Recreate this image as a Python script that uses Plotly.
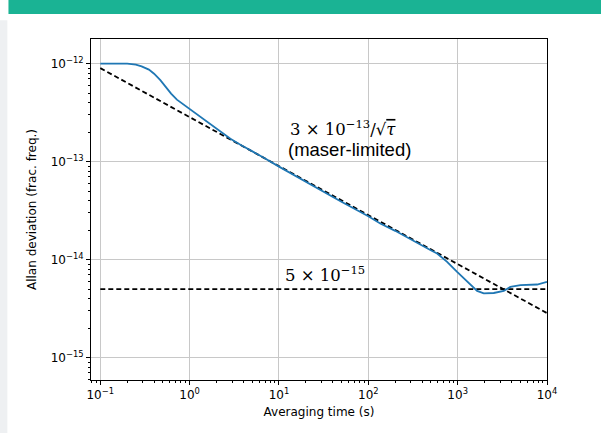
import numpy as np
import plotly.graph_objects as go

# Measured Allan deviation (blue)
tau = [0.1, 0.2, 0.25, 0.29, 0.35, 0.4, 0.47, 0.53, 0.62, 0.72, 0.85, 1.0, 1.3, 1.7, 2.2, 2.86, 3.7, 4.8, 7.0,
       10, 20, 50, 100, 136, 200, 300, 500,
       589, 762, 986, 1276, 1652, 1959, 2535, 3281, 3890, 5047, 7762, 10000]
adev = [1.0e-12, 1.0e-12, 9.8e-13, 9.4e-13, 8.7e-13, 7.9e-13, 6.8e-13, 5.9e-13, 4.95e-13, 4.3e-13,
        3.85e-13, 3.5e-13, 2.9e-13, 2.42e-13, 2.03e-13, 1.71e-13, 1.49e-13, 1.31e-13,
        1.08e-13, 8.9e-14, 6.2e-14, 3.9e-14, 2.78e-14, 2.34e-14, 1.97e-14, 1.6e-14, 1.25e-14,
        1.156e-14, 9.5e-15, 7.5e-15, 5.93e-15, 4.8e-15, 4.52e-15, 4.57e-15, 4.79e-15, 5.27e-15,
        5.5e-15, 5.58e-15, 5.93e-15]

# Reference lines
tau_ref = [0.1, 1, 10, 100, 1000, 10000]
maser_coef = 2.85e-13
maser = [maser_coef / np.sqrt(t) for t in tau_ref]
floor_tau = [0.1, 10000]
floor_val = [5e-15, 5e-15]

x_ticks = [0.1, 1, 10, 100, 1000, 10000]
x_ticktext = ["10<sup>−1</sup>", "10<sup>0</sup>", "10<sup>1</sup>", "10<sup>2</sup>", "10<sup>3</sup>", "10<sup>4</sup>"]
y_ticks = [1e-15, 1e-14, 1e-13, 1e-12]
y_ticktext = ["10<sup>−15</sup>", "10<sup>−14</sup>", "10<sup>−13</sup>", "10<sup>−12</sup>"]

x_minor = [m * 10.0 ** e for e in range(-2, 4) for m in range(2, 10)]
y_minor = [m * 10.0 ** e for e in range(-16, -11) for m in range(2, 10)]

fig = go.Figure()
fig.add_trace(go.Scatter(x=tau_ref, y=maser, mode="lines",
                         line=dict(color="black", width=1.8, dash="5px,3px"), showlegend=False))
fig.add_trace(go.Scatter(x=floor_tau, y=floor_val, mode="lines",
                         line=dict(color="black", width=1.8, dash="5px,3px"), showlegend=False))
fig.add_trace(go.Scatter(x=tau, y=adev, mode="lines", line=dict(color="#1f77b4", width=1.8),
                         showlegend=False))

tickfont = dict(family="DejaVu Sans", size=12, color="#000000")
common = dict(type="log", showline=True, linecolor="black", linewidth=1, mirror=True,
              ticks="outside", ticklen=4, tickcolor="black", showgrid=True, gridcolor="#c8c8c8",
              gridwidth=1, zeroline=False, tickfont=tickfont, tickmode="array")

fig.update_xaxes(**common, range=[-1.104, 4.0], tickvals=x_ticks, ticktext=x_ticktext,
                 minor=dict(ticks="outside", ticklen=2, tickcolor="black", showgrid=False,
                            tickmode="array", tickvals=x_minor),
                 title=dict(text="Averaging time (s)", font=tickfont, standoff=6))
fig.update_yaxes(**common, range=[-15.228, -11.748], tickvals=y_ticks, ticktext=y_ticktext,
                 minor=dict(ticks="outside", ticklen=2, tickcolor="black", showgrid=False,
                            tickmode="array", tickvals=y_minor),
                 title=dict(text="Allan deviation (frac. freq.)", font=tickfont, standoff=11))

serif = dict(family="DejaVu Serif", size=16.5, color="black")
fig.add_annotation(xref="paper", yref="paper", x=0.432, y=0.739, xanchor="left", yanchor="middle",
                   text="3 × 10<sup>−13</sup>/√<span style='text-decoration:overline'><i>τ</i></span>",
                   showarrow=False, font=serif)
fig.add_annotation(xref="paper", yref="paper", x=0.427, y=0.675, xanchor="left", yanchor="middle",
                   text="(maser-limited)", showarrow=False,
                   font=dict(family="Liberation Sans", size=18.5, color="black"))
fig.add_annotation(xref="paper", yref="paper", x=0.4215, y=0.311, xanchor="left", yanchor="middle",
                   text="5 × 10<sup>−15</sup>", showarrow=False, font=serif)

# slide decorations
fig.add_shape(type="rect", xref="paper", yref="paper", x0=-0.181, x1=1.12, y0=1.073, y1=1.12,
              fillcolor="#1ab394", line=dict(width=0), layer="below")
fig.add_shape(type="rect", xref="paper", yref="paper", x0=-0.2, x1=-0.1834, y0=-0.16, y1=1.055,
              fillcolor="#eef0f2", line=dict(width=0), layer="below")

fig.update_layout(width=601, height=433, margin=dict(l=91, r=54, t=39, b=53),
                  plot_bgcolor="white", paper_bgcolor="white")
fig.write_html("out.html", config={"displayModeBar": False},
               post_script="document.body.style.margin='0';")
